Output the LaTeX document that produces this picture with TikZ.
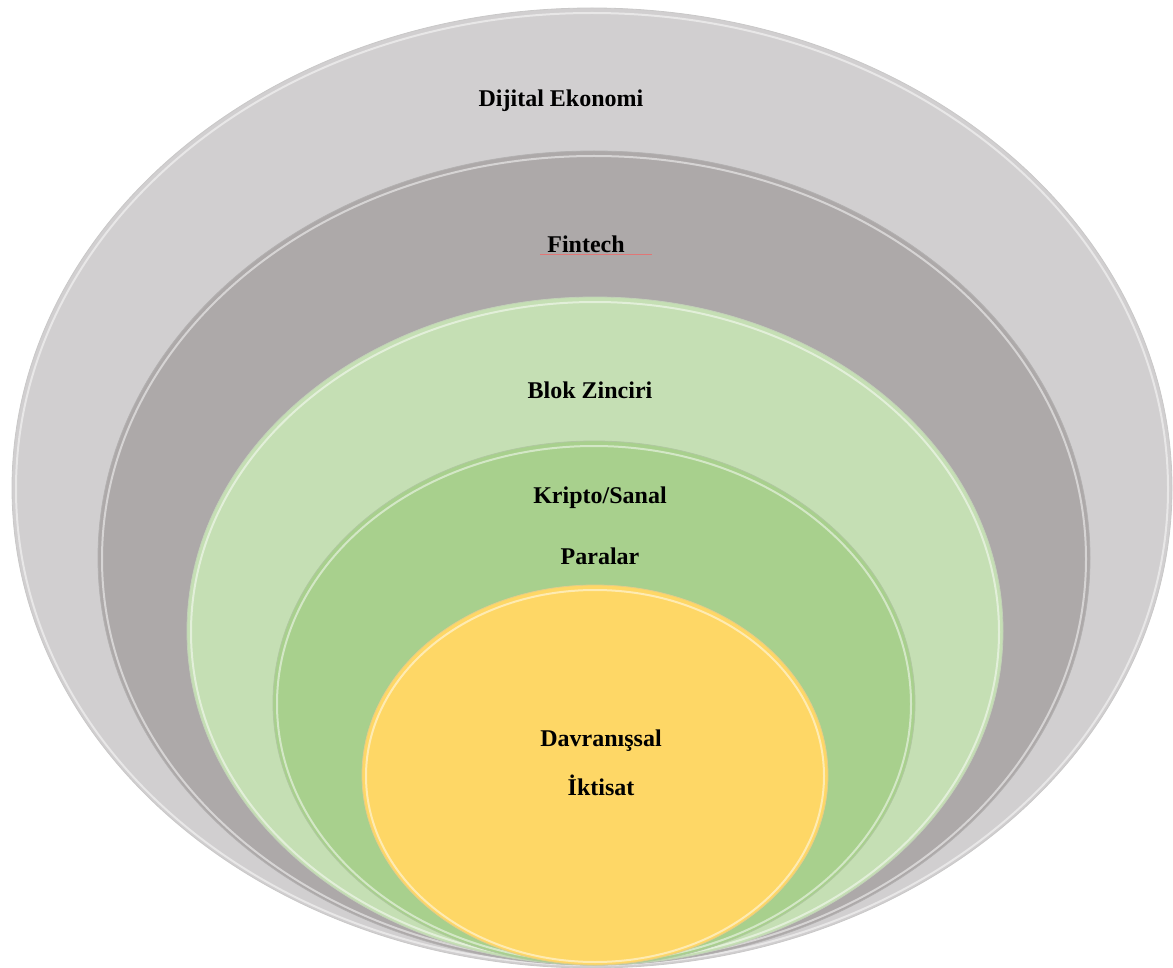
\documentclass[tikz,border=0pt]{standalone}
\usepackage{fontspec}
\setmainfont{Liberation Serif}
\usetikzlibrary{shapes.geometric}
\definecolor{cOuter}{HTML}{D1CFD0}
\definecolor{cFin}{HTML}{ADA9A9}
\definecolor{cBlok}{HTML}{C5DFB4}
\definecolor{cKrip}{HTML}{A8D08D}
\definecolor{cDav}{HTML}{FED766}
\definecolor{cUnder}{HTML}{E07676}
\tikzset{
  layer/.style={ellipse, inner sep=0pt, draw=#1!85!black!70!white, line width=0.8pt, fill=#1},
  rim/.style={ellipse, inner sep=0pt, draw=white, line width=2pt, opacity=0.5},
  lbl/.style={font=\fontsize{24}{28}\selectfont\bfseries, inner sep=0pt, anchor=base}
}
\begin{document}
\begin{tikzpicture}[x=1pt,y=-1pt]
\useasboundingbox (0,0) rectangle (1173,968);
% layers
\node[layer=cOuter, minimum width=1160pt, minimum height=960pt] (outer) at (592,488) {};
\node[rim, minimum width=1152pt, minimum height=952pt] (outerrim) at (592,489) {};
\node[layer=cFin, minimum width=992pt, minimum height=814pt] (fin) at (594,558) {};
\node[rim, minimum width=984pt, minimum height=806pt] (finrim) at (594,559) {};
\node[layer=cBlok, minimum width=816pt, minimum height=668pt] (blok) at (595,631) {};
\node[rim, minimum width=808pt, minimum height=660pt] (blokrim) at (595,632) {};
\node[layer=cKrip, minimum width=642pt, minimum height=524pt] (krip) at (594,703) {};
\node[rim, minimum width=634pt, minimum height=516pt] (kriprim) at (594,704) {};
\node[layer=cDav, minimum width=466pt, minimum height=380pt] (dav) at (595,775) {};
\node[rim, minimum width=458pt, minimum height=372pt] (davrim) at (595,776) {};
% labels
\node[lbl] (t1) at (561,107) {Dijital Ekonomi};
\node[lbl] (t2) at (586,253) {Fintech};
\coordinate (ulA) at (540,255);
\coordinate (ulB) at (652,255);
\draw[draw=cUnder, line width=1pt] (ulA) -- (ulB);
\node[lbl] (t3) at (590,399) {Blok Zinciri};
\node[lbl] (t4) at (600,503) {Kripto/Sanal};
\node[lbl] (t5) at (600,564) {Paralar};
\node[lbl] (t6) at (601,746) {Davranışsal};
\node[lbl] (t7) at (601,795) {İktisat};
\end{tikzpicture}
\end{document}
